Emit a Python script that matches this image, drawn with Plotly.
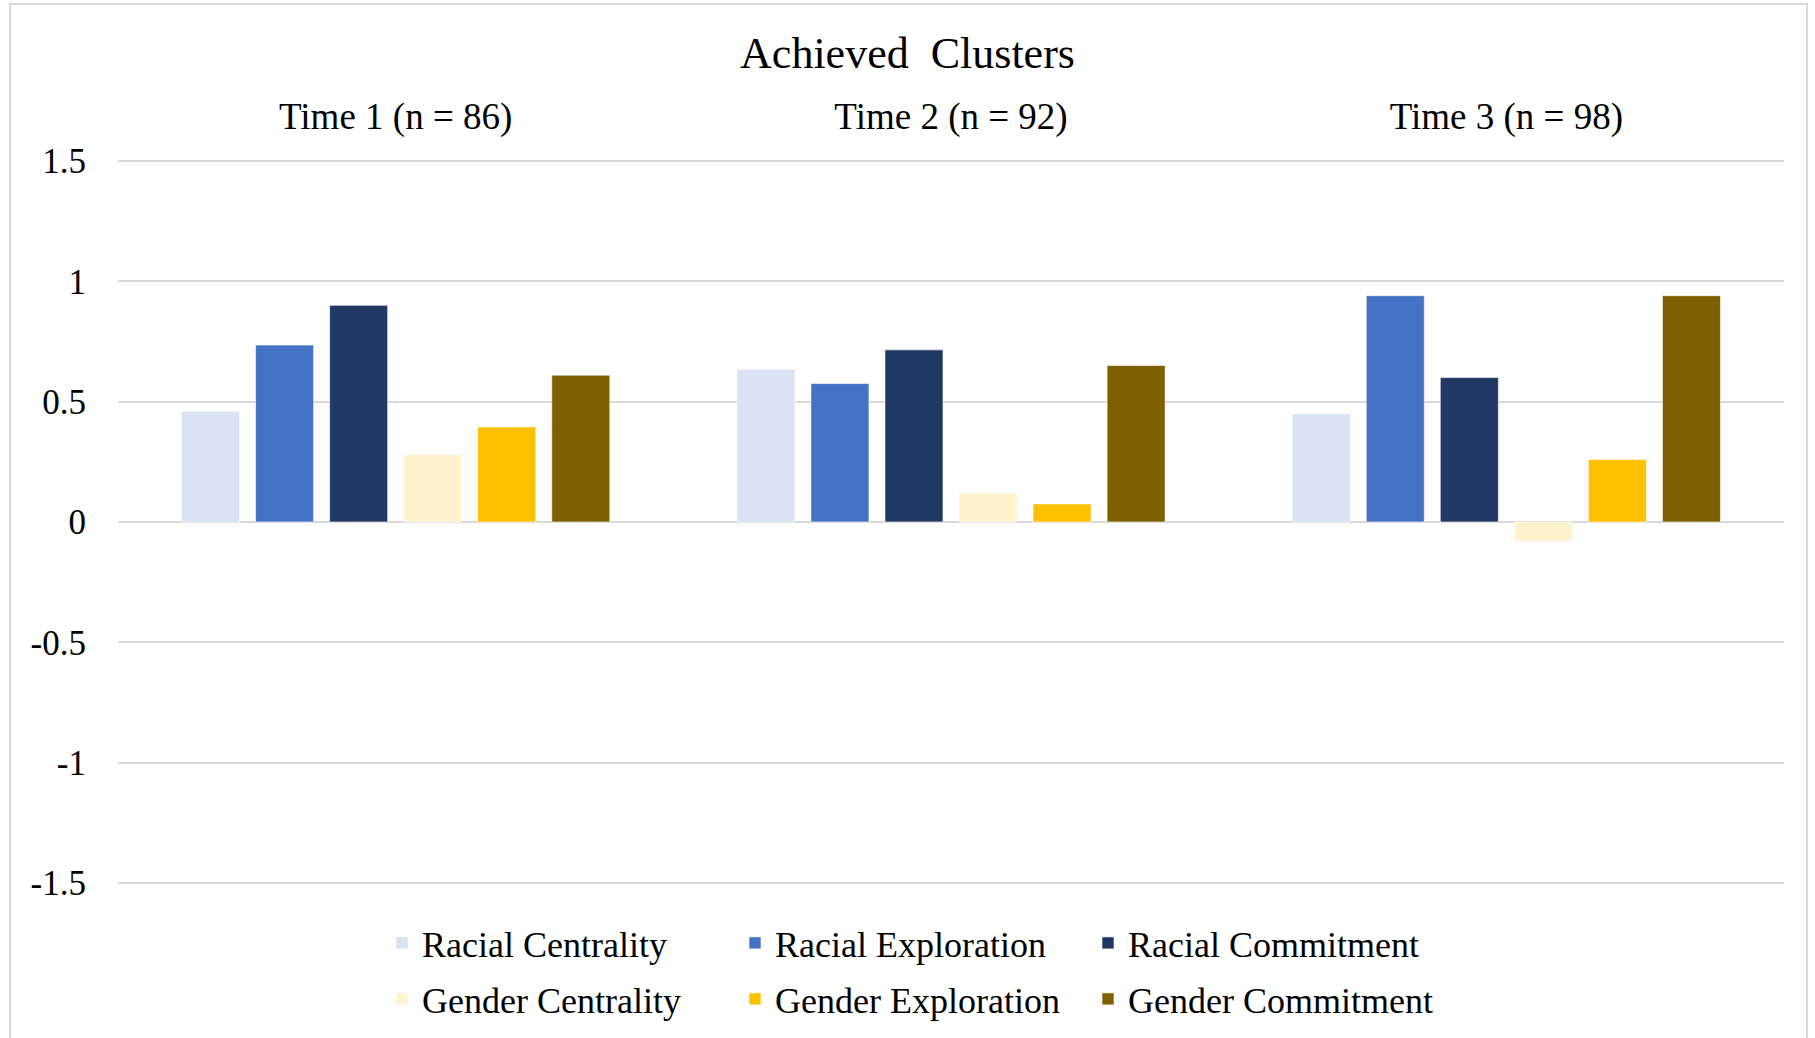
import plotly.graph_objects as go

categories = ["Time 1 (n = 86)", "Time 2 (n = 92)", "Time 3 (n = 98)"]
series_names = ["Racial Centrality", "Racial Exploration", "Racial Commitment",
                "Gender Centrality", "Gender Exploration", "Gender Commitment"]
racial_centrality = [0.46, 0.635, 0.45]
racial_exploration = [0.735, 0.575, 0.94]
racial_commitment = [0.90, 0.715, 0.60]
gender_centrality = [0.28, 0.12, -0.08]
gender_exploration = [0.395, 0.075, 0.26]
gender_commitment = [0.61, 0.65, 0.94]
series_values = [racial_centrality, racial_exploration, racial_commitment,
                 gender_centrality, gender_exploration, gender_commitment]
colors = ["#DAE3F3", "#4472C4", "#203864", "#FFF2CC", "#FFC000", "#7F6000"]
legend_ids = ["legend", "legend", "legend", "legend2", "legend2", "legend2"]
y_tickvals = [1.5, 1, 0.5, 0, -0.5, -1, -1.5]
y_ticktext = ["1.5", "1", "0.5", "0", "-0.5", "-1", "-1.5"]

FONT = "Liberation Serif, Times New Roman, serif"

fig = go.Figure()
for name, vals, col, lg in zip(series_names, series_values, colors, legend_ids):
    fig.add_trace(go.Bar(
        x=categories, y=vals, name=name, legend=lg,
        marker=dict(color=col, line=dict(color="rgba(255,255,255,0.6)", width=1)),
    ))

W, H = 1815, 1038
ml, mr, mt, mb = 118, 31, 158, 152
pw, ph = W - ml - mr, H - mt - mb

def px_x(px):
    return (px - ml) / pw

def px_y(py):
    return (H - mb - py) / ph

legend_common = dict(
    orientation="h", xanchor="left", yanchor="middle",
    entrywidth=308, entrywidthmode="pixels",
    font=dict(family=FONT, size=36, color="#000000"),
    bgcolor="rgba(0,0,0,0)", itemclick=False, traceorder="normal",
)

fig.update_layout(
    width=W, height=H,
    margin=dict(l=ml, r=mr, t=mt, b=mb, autoexpand=False),
    paper_bgcolor="white", plot_bgcolor="white",
    barmode="group", bargap=0.2, bargroupgap=0.216,
    title=dict(text="Achieved  Clusters", x=0.5, xref="container", xanchor="center",
               y=1 - 53 / H, yref="container", yanchor="middle",
               font=dict(family=FONT, size=44, color="#000000")),
    font=dict(family=FONT, color="#000000"),
    legend=dict(x=px_x(382), y=px_y(943), **legend_common),
    legend2=dict(x=px_x(382), y=px_y(999), **legend_common),
    xaxis=dict(side="top", showgrid=False, showline=False, zeroline=False,
               ticks="", tickfont=dict(family=FONT, size=37, color="#000000"),
               ticklabelstandoff=21),
    yaxis=dict(range=[-1.512, 1.512], tickvals=y_tickvals, ticktext=y_ticktext,
               showgrid=True, gridcolor="#D9D9D9", gridwidth=2,
               zeroline=True, zerolinecolor="#D9D9D9", zerolinewidth=2,
               showline=False, ticks="",
               tickfont=dict(family=FONT, size=35, color="#000000"),
               ticklabelstandoff=31),
    shapes=[dict(type="rect", xref="paper", yref="paper",
                 x0=px_x(10), x1=px_x(1807), y0=px_y(1045), y1=px_y(4),
                 line=dict(color="#D9D9D9", width=2), fillcolor="rgba(0,0,0,0)",
                 layer="below")],
)

fig.write_html("out.html")
